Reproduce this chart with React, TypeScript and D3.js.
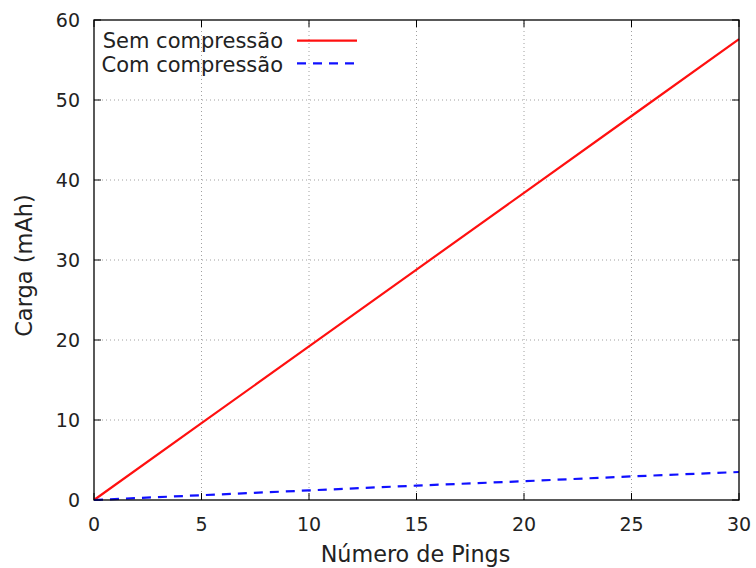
import React from "react";
import * as d3 from "d3";

const pings = [0, 5, 10, 15, 20, 25, 30];
const semCompressao = [0, 9.6, 19.2, 28.8, 38.4, 48.0, 57.6];
const comCompressao = [0, 0.6, 1.2, 1.8, 2.35, 2.95, 3.5];
const xTicks = [0, 5, 10, 15, 20, 25, 30];
const yTicks = [0, 10, 20, 30, 40, 50, 60];
const seriesNames = ["Sem compressão", "Com compressão"];

const W = 756, H = 568;
const L = 94, R = 739, T = 20, B = 500;
const FONT = "'DejaVu Sans', sans-serif";

export default function App() {
  const x = d3.scaleLinear().domain([0, 30]).range([L, R]);
  const y = d3.scaleLinear().domain([0, 60]).range([B, T]);
  const line = d3
    .line<number>()
    .x((_, i) => x(pings[i]))
    .y((d) => y(d));
  const series = [
    { name: seriesNames[0], values: semCompressao, color: "#ff1010", dash: undefined },
    { name: seriesNames[1], values: comCompressao, color: "#1010ff", dash: "9,7" },
  ];
  return (
    <svg width={W} height={H} style={{ position: "absolute", left: 0, top: 0 }}>
      <rect x={0} y={0} width={W} height={H} fill="white" />
      {/* grid */}
      {xTicks.slice(1, -1).map((t) => (
        <line key={"gx" + t} x1={x(t)} x2={x(t)} y1={B} y2={T} stroke="#a0a0a0" strokeWidth={1} strokeDasharray="1,3" />
      ))}
      {yTicks.slice(1, -1).map((t) => (
        <line key={"gy" + t} x1={L} x2={R} y1={y(t)} y2={y(t)} stroke="#a0a0a0" strokeWidth={1} strokeDasharray="1,3" />
      ))}
      {/* ticks */}
      {xTicks.map((t) => (
        <g key={"tx" + t}>
          <line x1={x(t)} x2={x(t)} y1={B} y2={B - 7} stroke="black" />
          <line x1={x(t)} x2={x(t)} y1={T} y2={T + 7} stroke="black" />
          <text x={x(t)} y={531} textAnchor="middle" fontFamily={FONT} fontSize={19} fill="#222">
            {t}
          </text>
        </g>
      ))}
      {yTicks.map((t) => (
        <g key={"ty" + t}>
          <line x1={L} x2={L + 7} y1={y(t)} y2={y(t)} stroke="black" />
          <line x1={R} x2={R - 7} y1={y(t)} y2={y(t)} stroke="black" />
          <text x={80} y={y(t) + 7} textAnchor="end" fontFamily={FONT} fontSize={19} fill="#222">
            {t}
          </text>
        </g>
      ))}
      {/* series */}
      {series.map((s) => (
        <path key={s.name} d={line(s.values) || ""} fill="none" stroke={s.color} strokeWidth={2.2} strokeDasharray={s.dash} />
      ))}
      {/* frame */}
      <rect x={L} y={T} width={R - L} height={B - T} fill="none" stroke="black" strokeWidth={1.3} />
      {/* legend */}
      {series.map((s, i) => (
        <g key={"lg" + s.name}>
          <text x={283} y={48.3 + i * 23.3} textAnchor="end" fontFamily={FONT} fontSize={21} fill="#222">
            {s.name}
          </text>
          <line x1={297} x2={357} y1={40.7 + i * 22.7} y2={40.7 + i * 22.7} stroke={s.color} strokeWidth={2.2} strokeDasharray={s.dash} />
        </g>
      ))}
      {/* axis labels */}
      <text x={415.5} y={562} textAnchor="middle" fontFamily={FONT} fontSize={22.3} fill="#222">
        Número de Pings
      </text>
      <text transform={`translate(32,265.5) rotate(-90)`} textAnchor="middle" fontFamily={FONT} fontSize={22.5} fill="#222">
        Carga (mAh)
      </text>
    </svg>
  );
}
